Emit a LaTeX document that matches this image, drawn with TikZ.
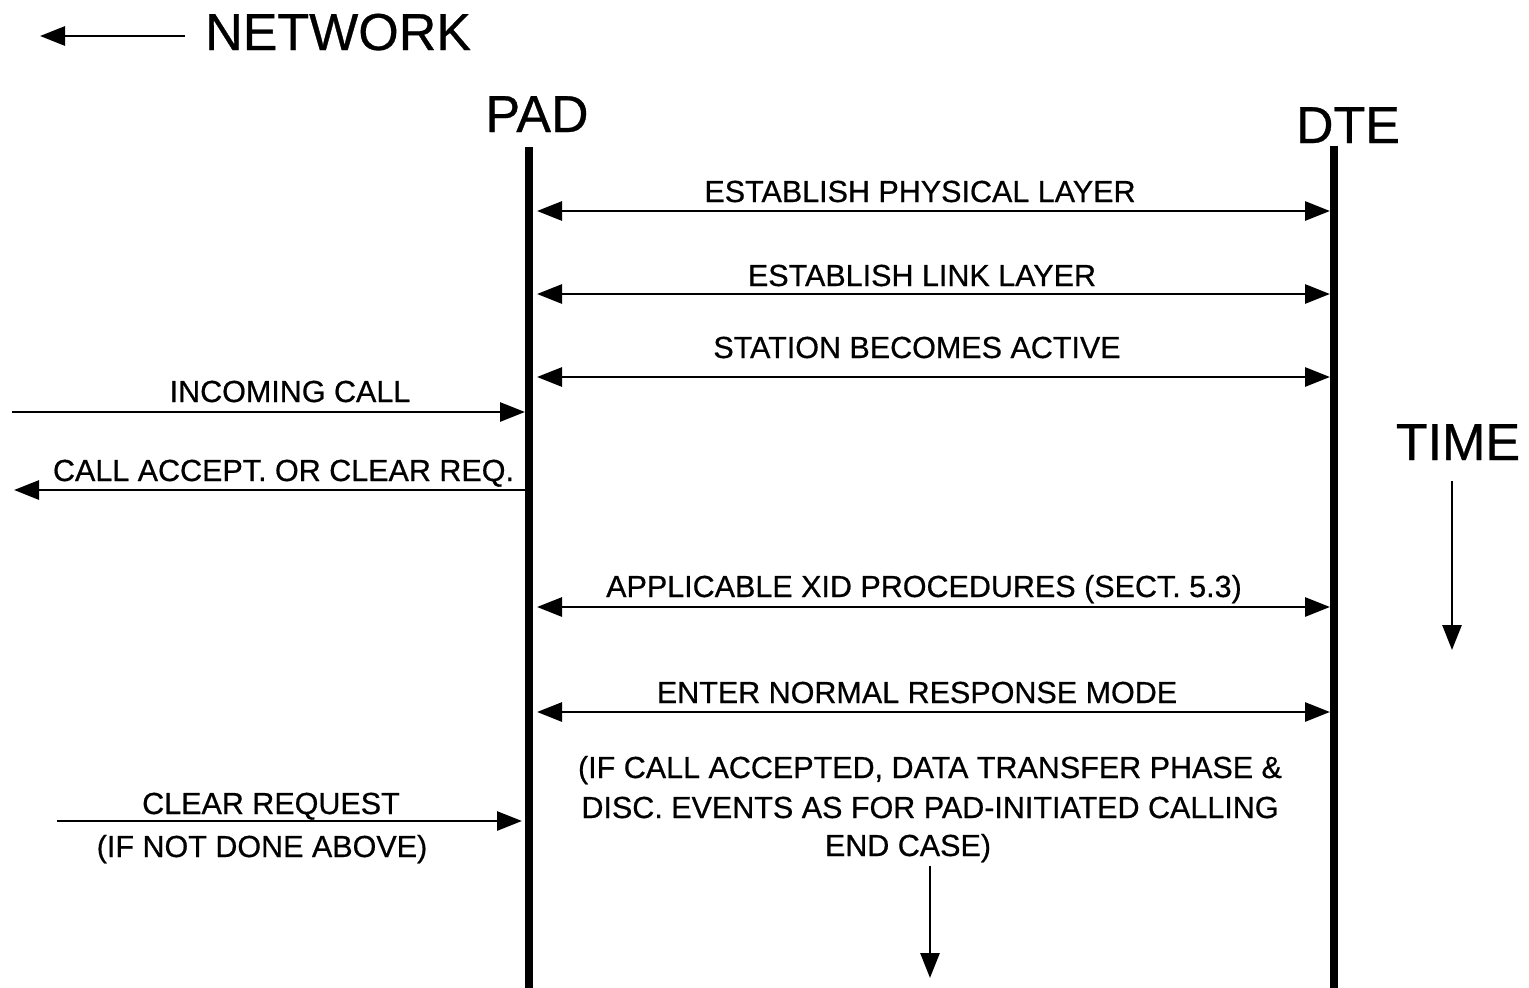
\documentclass[tikz,border=0pt]{standalone}
\usepackage{fontspec}
\setmainfont{Liberation Sans}[FakeBold=0.6]
\usetikzlibrary{arrows.meta}
\begin{document}
\begin{tikzpicture}[x=1pt,y=-1pt,
  lifeline/.style={line width=8pt},
  tip/.tip={Triangle[length=25pt,width=19pt]},
  msg/.style={line width=2.8pt,-tip},
  both/.style={line width=2.8pt,tip-tip},
  small/.style={font=\fontsize{30.5}{39}\selectfont,anchor=base,inner sep=0pt},
  big/.style={font=\fontsize{52}{60}\selectfont,anchor=base,inner sep=0pt}]
\useasboundingbox (0,0) rectangle (1529,988);

% headings
\node[big,anchor=base west] (net) at (205,50) {NETWORK};
\coordinate (netL) at (40,36);
\coordinate (netR) at (185,36);
\draw[msg] (netR) -- (netL);
\node[big] (pad) at (537,132) {PAD};
\node[big] (dte) at (1348,143) {DTE};
\node[big] (time) at (1458,460) {TIME};

% lifelines
\coordinate (padTop) at (529,147);
\coordinate (padBot) at (529,988);
\coordinate (dteTop) at (1334,146);
\coordinate (dteBot) at (1334,988);
\draw[lifeline] (padTop) -- (padBot);
\draw[lifeline] (dteTop) -- (dteBot);

% PAD <-> DTE exchanges
\foreach \n/\y in {phys/211,link/294,stat/377,xid/607,nrm/712}{
  \coordinate (p-\n) at (537,\y);
  \coordinate (d-\n) at (1330,\y);
  \draw[both] (p-\n) -- (d-\n);
}
\node[small] (lphys) at (920,202) {ESTABLISH PHYSICAL LAYER};
\node[small] (llink) at (922,286) {ESTABLISH LINK LAYER};
\node[small] (lstat) at (917,358) {STATION BECOMES ACTIVE};
\node[small] (lxid) at (924,597) {APPLICABLE XID PROCEDURES (SECT. 5.3)};
\node[small] (lnrm) at (917,703) {ENTER NORMAL RESPONSE MODE};

% network side
\coordinate (incL) at (12,412);
\coordinate (incR) at (525,412);
\draw[msg] (incL) -- (incR);
\node[small] (linc) at (290,402) {INCOMING CALL};

\coordinate (accR) at (525,490);
\coordinate (accL) at (14,490);
\draw[msg] (accR) -- (accL);
\node[small] (lacc) at (283.5,481) {CALL ACCEPT. OR CLEAR REQ.};

\coordinate (clrL) at (57,821);
\coordinate (clrR) at (522,821);
\draw[msg] (clrL) -- (clrR);
\node[small] (lclr) at (271,814) {CLEAR REQUEST};
\node[small] (lclr2) at (262,857) {(IF NOT DONE ABOVE)};

% continuation note
\node[small] (n1) at (930,778) {(IF CALL ACCEPTED, DATA TRANSFER PHASE \&};
\node[small] (n2) at (930,818) {DISC. EVENTS AS FOR PAD-INITIATED CALLING};
\node[small] (n3) at (908,856) {END CASE)};
\coordinate (contTop) at (930,866);
\coordinate (contBot) at (930,978);
\draw[msg] (contTop) -- (contBot);

% time axis
\coordinate (timeTop) at (1452,481);
\coordinate (timeBot) at (1452,650);
\draw[msg] (timeTop) -- (timeBot);
\end{tikzpicture}
\end{document}
